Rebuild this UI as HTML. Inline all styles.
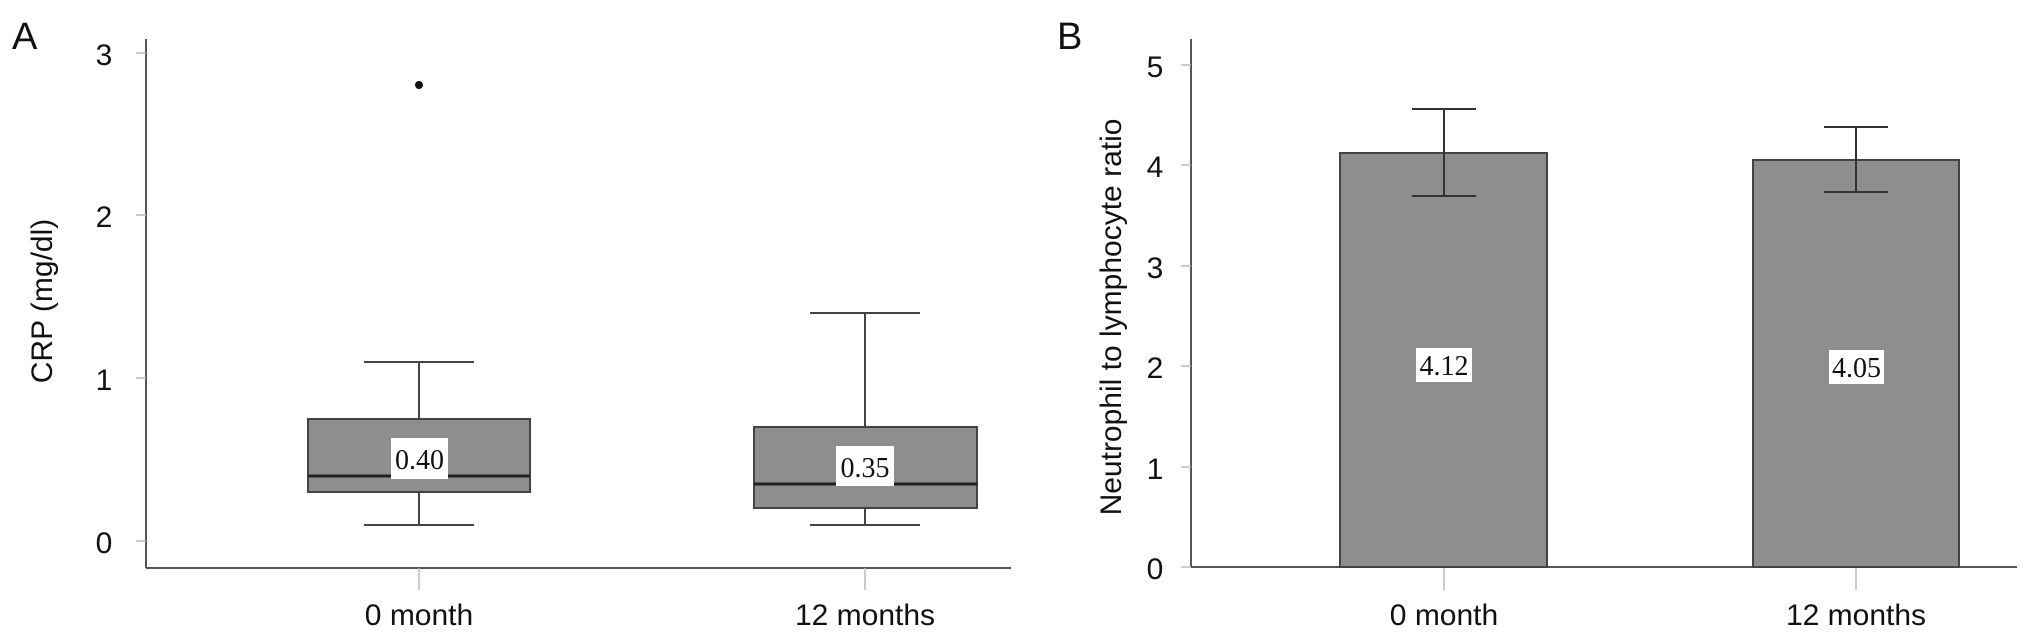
<!DOCTYPE html>
<html><head><meta charset="utf-8"><style>
html,body{margin:0;padding:0;background:#fff;}
svg{display:block;}
text{font-family:"Liberation Sans",Arial,sans-serif;fill:#111;}
.t{font-size:30px;}
.v{font-family:"Liberation Serif",serif;font-size:28px;}
</style></head><body>
<svg width="2032" height="637" viewBox="0 0 2032 637" xmlns="http://www.w3.org/2000/svg">
<rect width="2032" height="637" fill="#fff"/>
<!-- Panel A -->
<text x="12" y="49" font-size="38">A</text>
<line x1="146" y1="39" x2="146" y2="568" stroke="#555" stroke-width="2"/>
<line x1="146" y1="568" x2="1011" y2="568" stroke="#555" stroke-width="2"/>
<g stroke="#bbb" stroke-width="1.5">
<line x1="136" y1="53" x2="146" y2="53"/><line x1="136" y1="215" x2="146" y2="215"/>
<line x1="136" y1="378" x2="146" y2="378"/><line x1="136" y1="541" x2="146" y2="541"/>
<line x1="419" y1="568" x2="419" y2="590"/><line x1="865" y1="568" x2="865" y2="590"/>
</g>
<g class="t" text-anchor="middle">
<text x="104" y="65">3</text><text x="104" y="227">2</text><text x="104" y="390">1</text><text x="104" y="553">0</text>
<text x="419" y="625">0 month</text><text x="865" y="625">12 months</text>
</g>
<text class="t" font-size="31" transform="translate(52,301) rotate(-90)" text-anchor="middle">CRP (mg/dl)</text>
<g stroke="#444" stroke-width="2" fill="none">
<line x1="419" y1="362" x2="419" y2="419"/><line x1="364" y1="362" x2="474" y2="362"/>
<line x1="419" y1="492" x2="419" y2="525"/><line x1="364" y1="525" x2="474" y2="525"/>
<line x1="865" y1="313" x2="865" y2="427"/><line x1="810" y1="313" x2="920" y2="313"/>
<line x1="865" y1="508" x2="865" y2="525"/><line x1="810" y1="525" x2="920" y2="525"/>
</g>
<rect x="308" y="419" width="222" height="73" fill="#8e8e8e" stroke="#444" stroke-width="2"/>
<line x1="308" y1="476" x2="530" y2="476" stroke="#222" stroke-width="3"/>
<rect x="754" y="427" width="223" height="81" fill="#8e8e8e" stroke="#444" stroke-width="2"/>
<line x1="754" y1="484" x2="977" y2="484" stroke="#222" stroke-width="3"/>
<circle cx="419" cy="85" r="4" fill="#111"/>
<rect x="391" y="438" width="57" height="41" fill="#fff"/>
<text class="v" x="419.5" y="469" text-anchor="middle">0.40</text>
<rect x="836" y="446" width="58" height="40" fill="#fff"/>
<text class="v" x="865" y="477" text-anchor="middle">0.35</text>
<!-- Panel B -->
<text x="1057" y="49" font-size="38">B</text>
<line x1="1191" y1="39" x2="1191" y2="567" stroke="#555" stroke-width="2"/>
<line x1="1191" y1="567" x2="2017" y2="567" stroke="#555" stroke-width="2"/>
<g stroke="#bbb" stroke-width="1.5">
<line x1="1181" y1="65" x2="1191" y2="65"/><line x1="1181" y1="165" x2="1191" y2="165"/>
<line x1="1181" y1="266" x2="1191" y2="266"/><line x1="1181" y1="366" x2="1191" y2="366"/>
<line x1="1181" y1="467" x2="1191" y2="467"/><line x1="1181" y1="567" x2="1191" y2="567"/>
<line x1="1444" y1="567" x2="1444" y2="590"/><line x1="1856" y1="567" x2="1856" y2="590"/>
</g>
<g class="t" text-anchor="middle">
<text x="1155" y="77">5</text><text x="1155" y="177">4</text><text x="1155" y="278">3</text>
<text x="1155" y="378">2</text><text x="1155" y="479">1</text><text x="1155" y="579">0</text>
<text x="1444" y="625">0 month</text><text x="1856" y="625">12 months</text>
</g>
<text class="t" font-size="33" transform="translate(1121,317) rotate(-90)" text-anchor="middle">Neutrophil to lymphocyte ratio</text>
<rect x="1340" y="153" width="207" height="414" fill="#8e8e8e" stroke="#444" stroke-width="2"/>
<rect x="1753" y="160" width="206" height="407" fill="#8e8e8e" stroke="#444" stroke-width="2"/>
<g stroke="#333" stroke-width="2">
<line x1="1444" y1="109" x2="1444" y2="196"/><line x1="1412" y1="109" x2="1476" y2="109"/><line x1="1412" y1="196" x2="1476" y2="196"/>
<line x1="1856" y1="127" x2="1856" y2="192"/><line x1="1824" y1="127" x2="1888" y2="127"/><line x1="1824" y1="192" x2="1888" y2="192"/>
</g>
<rect x="1416" y="348" width="56" height="34" fill="#fff"/>
<text class="v" x="1444" y="375" text-anchor="middle">4.12</text>
<rect x="1829" y="350" width="55" height="34" fill="#fff"/>
<text class="v" x="1856.5" y="377" text-anchor="middle">4.05</text>
</svg>
</body></html>
